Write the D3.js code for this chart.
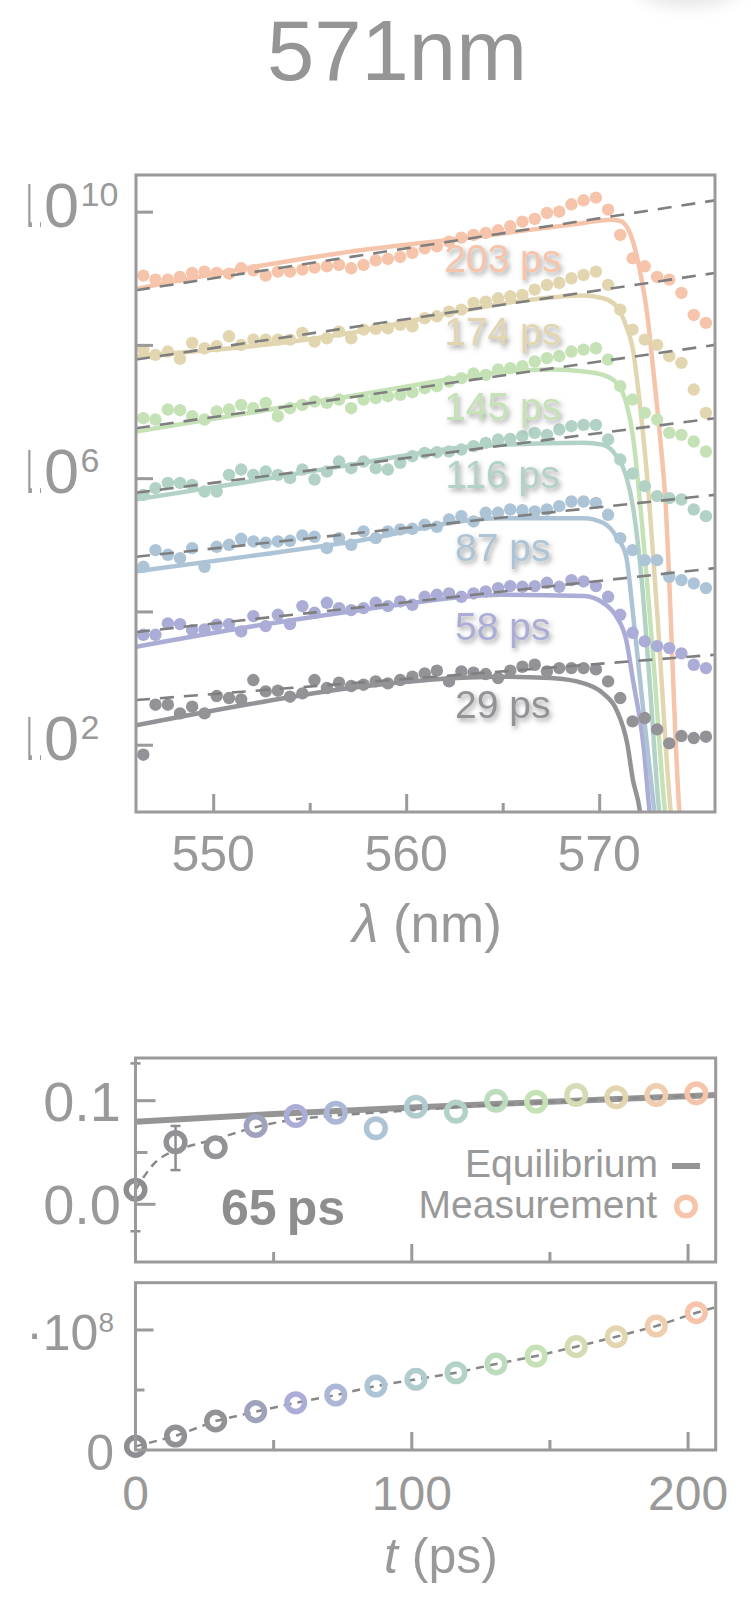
<!DOCTYPE html>
<html><head><meta charset="utf-8">
<script src="https://cdn.jsdelivr.net/npm/d3@7"></script>
<style>
html,body{margin:0;padding:0;background:#fff;}
svg{display:block;font-family:"Liberation Sans",Arial,Helvetica,sans-serif;}
</style></head><body>
<svg id="c" width="751" height="1598"></svg>
<script>
// ---------------- DATA ----------------
const titleText = "571nm";
// Top panel: spectra, wavelength grid (nm)
const wavelengths = [546.38,547.01,547.65,548.28,548.91,549.55,550.18,550.82,551.45,552.08,552.72,553.35,553.98,554.62,555.25,555.89,556.52,557.15,557.79,558.42,559.05,559.69,560.32,560.96,561.59,562.22,562.86,563.49,564.12,564.76,565.39,566.02,566.66,567.29,567.93,568.56,569.19,569.83,570.46,571.09,571.73,572.36,573.00,573.63,574.26,574.90,575.53];
const seriesNames = ["29 ps","58 ps","87 ps","116 ps","145 ps","174 ps","203 ps"];
const seriesColors = ["#939397","#abadd6","#adc4d6","#b2d2c6","#c5e2b6","#e2d6b1","#f6c4aa"];
// measured intensity, log10 units
const s29  = [1.85,2.60,2.60,2.47,2.57,2.47,2.73,2.70,2.68,2.97,2.80,2.81,2.72,2.77,2.97,2.85,2.93,2.88,2.90,2.95,2.92,2.97,3.02,3.07,3.11,2.95,3.10,3.08,3.06,3.00,3.11,3.17,3.20,3.10,3.15,3.15,3.15,3.13,2.95,2.70,2.35,2.40,2.23,2.02,2.13,2.10,2.12];
const s58  = [3.65,3.65,3.82,3.81,3.72,3.73,3.80,3.81,3.70,3.93,3.78,3.95,3.81,4.08,3.98,4.13,4.05,4.02,4.05,4.13,4.08,4.15,4.10,4.22,4.25,4.27,4.22,4.27,4.30,4.35,4.38,4.37,4.38,4.43,4.37,4.47,4.45,4.38,4.22,3.95,3.68,3.55,3.48,3.45,3.37,3.20,3.15];
const s87  = [4.67,4.92,4.85,4.80,4.95,4.67,4.97,5.00,5.09,5.05,5.03,5.05,5.06,5.14,5.12,4.95,5.10,5.00,5.20,5.10,5.20,5.23,5.24,5.30,5.27,5.38,5.43,5.35,5.48,5.48,5.53,5.52,5.50,5.53,5.58,5.65,5.65,5.63,5.45,5.10,4.92,4.77,4.77,4.52,4.47,4.42,4.35];
const s116 = [5.75,5.85,5.93,5.93,5.90,5.80,5.80,6.05,6.13,6.05,6.10,6.05,6.00,6.13,5.98,6.10,6.25,6.15,6.25,6.15,6.13,6.23,6.33,6.38,6.39,6.40,6.43,6.48,6.53,6.58,6.59,6.63,6.68,6.65,6.73,6.78,6.80,6.80,6.58,6.28,6.07,5.88,5.73,5.70,5.68,5.53,5.43];
const s145 = [6.90,6.88,7.03,7.02,6.93,6.88,7.00,7.03,7.10,7.05,7.13,6.93,7.05,7.10,7.15,7.13,7.18,7.05,7.18,7.20,7.23,7.25,7.29,7.35,7.38,7.45,7.50,7.57,7.55,7.63,7.65,7.68,7.75,7.80,7.83,7.90,7.93,7.95,7.78,7.38,7.18,6.98,6.88,6.68,6.65,6.55,6.40];
const s174 = [7.93,7.85,7.90,7.79,8.03,7.95,7.98,8.13,8.00,8.08,8.08,8.08,8.08,8.18,8.05,8.10,8.20,8.10,8.23,8.24,8.25,8.30,8.28,8.40,8.43,8.50,8.53,8.63,8.65,8.70,8.73,8.75,8.83,8.90,8.93,9.00,9.05,9.10,8.90,8.53,8.23,8.08,8.00,7.83,7.73,7.33,6.98];
const s203 = [9.04,8.98,8.98,9.02,9.08,9.10,9.08,9.07,9.15,9.12,9.04,9.10,9.10,9.13,9.16,9.18,9.20,9.15,9.20,9.27,9.29,9.32,9.38,9.45,9.48,9.55,9.61,9.65,9.68,9.72,9.78,9.85,9.89,9.98,10.00,10.11,10.17,10.21,10.03,9.65,9.30,9.18,9.02,8.98,8.78,8.45,8.33];
const measured = [s29,s58,s87,s116,s145,s174,s203];
// fitted curves [wavelength, log10 intensity]
const fit29  = [[546,2.29],[551.9,2.61],[557.1,2.85],[564.9,3.02],[567.5,3.00],[569.2,2.92],[570.2,2.77],[570.9,2.52],[571.45,2.02],[571.75,1.47],[572.1,1.02],[572.3,0.5]];
const fit58  = [[546,3.47],[551.9,3.77],[557.1,4.00],[559.6,4.10],[564.9,4.25],[569.2,4.23],[570.2,4.13],[570.9,3.92],[571.4,3.57],[571.75,2.97],[572.3,1.97],[572.6,1.02],[572.8,0.5]];
const fit87  = [[546,4.60],[551.9,4.83],[557.1,5.04],[564.9,5.40],[569.2,5.40],[570.2,5.33],[570.9,5.12],[571.4,4.82],[571.75,3.97],[572.3,2.47],[572.85,1.02],[573.05,0.5]];
const fit116 = [[546,5.68],[551.9,5.95],[557.1,6.20],[563.6,6.48],[569.2,6.53],[570.2,6.50],[570.9,6.33],[571.4,6.03],[571.8,5.48],[572.2,4.47],[572.6,3.0],[573.1,1.02],[573.3,0.5]];
const fit145 = [[546,6.70],[551.9,6.98],[557.1,7.23],[567.5,7.63],[569.2,7.60],[570.2,7.55],[570.9,7.43],[571.4,7.13],[571.75,6.63],[572.1,5.68],[572.8,3.3],[573.4,1.02],[573.6,0.5]];
const fit174 = [[546,7.83],[557.1,8.18],[562.3,8.48],[565.7,8.65],[569.2,8.74],[570.2,8.70],[570.9,8.58],[571.4,8.28],[571.75,7.93],[572.1,7.13],[572.45,6.13],[573.0,4.0],[573.7,1.02],[573.9,0.5]];
const fit203 = [[546,8.84],[551.9,9.16],[557.1,9.40],[562.3,9.58],[565.7,9.70],[569.2,9.83],[570.6,9.88],[571.1,9.86],[571.75,9.55],[572.1,9.13],[572.5,8.43],[572.8,7.63],[573.15,6.63],[573.4,5.8],[574.15,1.02],[574.3,0.5]];
const fits = [fit29,fit58,fit87,fit116,fit145,fit174,fit203];
// Boltzmann (dashed) lines, log10 value at the two ends of the wavelength range
const dashedLambda = [546, 576];
const dashedStart = [2.67,3.69,4.82,5.78,6.75,7.78,8.82];
const dashedEnd   = [3.35,4.65,5.75,6.90,8.00,9.08,10.17];
const labelLog = [2.40,3.57,4.75,5.86,6.87,8.00,9.10];
const xTicksTop = [550,560,570];
const xMinorTop = [555,565];
const yTickExpTop = [2,4,6,8,10];
const yLabelExpTop = [10,6,2];

// Bottom panels
const times = [0,14.5,29,43.5,58,72.5,87,101.5,116,130.5,145,159.5,174,188.5,203];
const ringColors = ["#8e8e92","#919195","#939397","#a0a2bb","#abadd6","#acb6d6","#adc4d6","#b0ccce","#b2d2c6","#bcdcbd","#c5e2b6","#d4dcb3","#e2d6b1","#efcdae","#f6c4aa"];
const thermFraction = [0.014,0.060,0.055,0.0756,0.0852,0.0884,0.0734,0.0942,0.0894,0.1000,0.0990,0.1055,0.1033,0.1055,0.1071];
const errIdx = [0,1];
const errLow = [-0.026,0.033];
const errHigh = [0.136,0.0756];
const eqT = [0,50,100,150,210];
const eqV = [0.0797,0.0872,0.0935,0.0990,0.1055];
const thermFitT = [0,7,14.5,22,29,43.5,58,72.5,87,101.5,130.5,160,210];
const thermFitV = [0.014,0.040,0.052,0.058,0.063,0.0745,0.082,0.0857,0.0885,0.091,0.096,0.100,0.1055];
const population = [0.03e8,0.117e8,0.242e8,0.32e8,0.394e8,0.458e8,0.533e8,0.589e8,0.644e8,0.717e8,0.783e8,0.861e8,0.944e8,1.033e8,1.144e8];
const popExtT = 210, popExtV = 1.19e8;
const tMajor = [100,200], tMinor = [50,150];
const tLabels = [0,100,200];

// ---------------- DRAW ----------------
const W = 751, H = 1598;
const grey = "#9a9a9a", txt = "#999999";
const svg = d3.select("#c");
const defs = svg.append("defs");
defs.append("clipPath").attr("id","clipTop").append("rect").attr("x",136).attr("y",175).attr("width",579).attr("height",637);
const cl = defs.append("clipPath").attr("id","clipLeft");
cl.append("rect").attr("x",28.3).attr("y",0).attr("width",3.6).attr("height",H);
cl.append("rect").attr("x",40).attr("y",0).attr("width",W).attr("height",H);
const sh = defs.append("filter").attr("id","shadow").attr("x","-20%").attr("y","-30%").attr("width","140%").attr("height","170%");
sh.append("feDropShadow").attr("dx",2).attr("dy",3).attr("stdDeviation",2.4).attr("flood-color","#444").attr("flood-opacity",0.5);
const bl = defs.append("filter").attr("id","blur").attr("x","-100%").attr("y","-100%").attr("width","300%").attr("height","300%");
bl.append("feGaussianBlur").attr("stdDeviation",8);

// faint shadow blob top right
svg.append("ellipse").attr("cx",688).attr("cy",-12).attr("rx",50).attr("ry",18).attr("fill","#e4e4e4").attr("filter","url(#blur)");

// title
svg.append("text").attr("x",397).attr("y",80).attr("text-anchor","middle")
  .attr("font-size",85).attr("fill","#959595").text(titleText);

// ---- Top panel ----
const xT = d3.scaleLinear().domain([546,576]).range([136,715]);
const yT = d3.scaleLog().domain([Math.pow(10,0.99), Math.pow(10,10.55)]).range([812,175]);
const topG = svg.append("g");
const plot = topG.append("g").attr("clip-path","url(#clipTop)");
const fitLine = d3.line().x(d=>xT(d[0])).y(d=>yT(Math.pow(10,d[1]))).curve(d3.curveMonotoneX);

fits.forEach((f,j)=>{
  plot.append("path").attr("d",fitLine(f)).attr("fill","none")
    .attr("stroke",seriesColors[j]).attr("stroke-width",4.5).attr("stroke-linejoin","round");
});
measured.forEach((arr,j)=>{
  plot.append("g").selectAll("circle").data(arr).join("circle")
    .attr("cx",(d,i)=>xT(wavelengths[i])).attr("cy",d=>yT(Math.pow(10,d)))
    .attr("r",6.2).attr("fill",seriesColors[j]);
});
dashedStart.forEach((s,j)=>{
  plot.append("path").attr("d",fitLine([[dashedLambda[0],s],[dashedLambda[1],dashedEnd[j]]]))
    .attr("fill","none").attr("stroke","#7f7f7f").attr("stroke-width",2.6).attr("stroke-dasharray","14,10");
});
seriesNames.forEach((n,j)=>{
  topG.append("text").attr("x",xT(565.0)).attr("y",yT(Math.pow(10,labelLog[j])))
    .attr("text-anchor","middle").attr("font-size",39).attr("fill",seriesColors[j])
    .attr("filter","url(#shadow)").text(n);
});
// frame
topG.append("rect").attr("x",136).attr("y",175).attr("width",579).attr("height",637)
  .attr("fill","none").attr("stroke",grey).attr("stroke-width",3);
// y ticks
const yAx = topG.append("g").attr("transform","translate(136,0)")
  .call(d3.axisLeft(yT).tickValues(yTickExpTop.map(e=>Math.pow(10,e))).tickSize(-17).tickFormat(""));
yAx.select(".domain").remove();
yAx.selectAll("line").attr("stroke",grey).attr("stroke-width",3);
// x ticks
const xAx = topG.append("g").attr("transform","translate(0,812)")
  .call(d3.axisBottom(xT).tickValues(xTicksTop).tickSize(-18).tickFormat(""));
xAx.select(".domain").remove();
xAx.selectAll("line").attr("stroke",grey).attr("stroke-width",3);
const xAx2 = topG.append("g").attr("transform","translate(0,812)")
  .call(d3.axisBottom(xT).tickValues(xMinorTop).tickSize(-9).tickFormat(""));
xAx2.select(".domain").remove();
xAx2.selectAll("line").attr("stroke",grey).attr("stroke-width",3);
xTicksTop.forEach(v=>{
  topG.append("text").attr("x",xT(v)).attr("y",871).attr("text-anchor","middle")
    .attr("font-size",50).attr("fill",txt).text(v);
});
const xTitle = topG.append("text").attr("x",427).attr("y",942).attr("text-anchor","middle")
  .attr("font-size",53).attr("fill",txt);
xTitle.append("tspan").attr("font-style","italic").text("λ");
xTitle.append("tspan").text(" (nm)");
// y labels (left edge cropped like the source)
const yLab = svg.append("g").attr("clip-path","url(#clipLeft)");
yLabelExpTop.forEach(e=>{
  const t = yLab.append("text").attr("x",9).attr("y",yT(Math.pow(10,e))+15)
    .attr("font-size",63).attr("fill",txt);
  t.append("tspan").text("10");
  t.append("tspan").attr("font-size",34).attr("dx",1.5).attr("dy",-21).text(e);
});
const yLab2 = svg.append("g");

// ---- Panel A: thermalization ----
const xA = d3.scaleLinear().domain([0,210]).range([135.5,715.7]);
const yA = d3.scaleLinear().domain([-0.0557,0.1412]).range([1262,1058]);
const pa = svg.append("g");
const lineA = d3.line().x(d=>xA(d[0])).y(d=>yA(d[1])).curve(d3.curveMonotoneX);
pa.append("path").attr("d",lineA(eqT.map((t,i)=>[t,eqV[i]]))).attr("fill","none")
  .attr("stroke","#959595").attr("stroke-width",6);
pa.append("path").attr("d",lineA(thermFitT.map((t,i)=>[t,thermFitV[i]]))).attr("fill","none")
  .attr("stroke","#888").attr("stroke-width",2.5).attr("stroke-dasharray","8,6");
errIdx.forEach((k,i)=>{
  const x = xA(times[k]);
  pa.append("line").attr("x1",x).attr("x2",x).attr("y1",yA(errLow[i])).attr("y2",yA(errHigh[i]))
    .attr("stroke","#8e8e92").attr("stroke-width",2.5);
  [errLow[i],errHigh[i]].forEach(v=>{
    pa.append("line").attr("x1",x-5).attr("x2",x+5).attr("y1",yA(v)).attr("y2",yA(v))
      .attr("stroke","#8e8e92").attr("stroke-width",2.5);
  });
});
pa.selectAll("circle.r").data(thermFraction).join("circle").attr("class","r")
  .attr("cx",(d,i)=>xA(times[i])).attr("cy",d=>yA(d)).attr("r",9.3)
  .attr("fill","none").attr("stroke",(d,i)=>ringColors[i]).attr("stroke-width",5.5);
pa.append("rect").attr("x",135.5).attr("y",1058).attr("width",580.2).attr("height",204)
  .attr("fill","none").attr("stroke",grey).attr("stroke-width",3);
[[0,20],[0.1,20],[0.05,12]].forEach(([v,len])=>{
  pa.append("line").attr("x1",135.5).attr("x2",135.5+len).attr("y1",yA(v)).attr("y2",yA(v))
    .attr("stroke",grey).attr("stroke-width",3);
});
tMajor.forEach(t=>pa.append("line").attr("x1",xA(t)).attr("x2",xA(t)).attr("y1",1262).attr("y2",1244).attr("stroke",grey).attr("stroke-width",3));
tMinor.forEach(t=>pa.append("line").attr("x1",xA(t)).attr("x2",xA(t)).attr("y1",1262).attr("y2",1252).attr("stroke",grey).attr("stroke-width",3));
[[0.1,"0.1"],[0,"0.0"]].forEach(([v,s])=>{
  yLab2.append("text").attr("x",121).attr("y",yA(v)+20).attr("text-anchor","end")
    .attr("font-size",56).attr("fill",txt).text(s);
});
pa.append("text").attr("x",221).attr("y",1225).attr("font-size",50).attr("font-weight","bold")
  .attr("fill","#8e8e8e").text("65\u2009ps");
// legend
pa.append("text").attr("x",658).attr("y",1177).attr("text-anchor","end").attr("font-size",39)
  .attr("fill",txt).text("Equilibrium");
pa.append("line").attr("x1",672).attr("x2",700).attr("y1",1166).attr("y2",1166)
  .attr("stroke","#959595").attr("stroke-width",6);
pa.append("text").attr("x",657).attr("y",1218).attr("text-anchor","end").attr("font-size",39)
  .attr("fill",txt).text("Measurement");
pa.append("circle").attr("cx",686).attr("cy",1206.5).attr("r",9.3).attr("fill","none")
  .attr("stroke",ringColors[14]).attr("stroke-width",5.5);

// ---- Panel B: population ----
const yB = d3.scaleLinear().domain([0,1.394e8]).range([1450,1282.7]);
const pb = svg.append("g");
const lineB = d3.line().x(d=>xA(d[0])).y(d=>yB(d[1]));
const popLine = times.map((t,i)=>[t,population[i]]).concat([[popExtT,popExtV]]);
pb.append("path").attr("d",lineB(popLine)).attr("fill","none")
  .attr("stroke","#888").attr("stroke-width",2.5).attr("stroke-dasharray","8,6");
pb.selectAll("circle").data(population).join("circle")
  .attr("cx",(d,i)=>xA(times[i])).attr("cy",d=>yB(d)).attr("r",8.8)
  .attr("fill","none").attr("stroke",(d,i)=>ringColors[i]).attr("stroke-width",5.5);
pb.append("rect").attr("x",135.5).attr("y",1282.7).attr("width",580.2).attr("height",167.3)
  .attr("fill","none").attr("stroke",grey).attr("stroke-width",3);
[[1e8,18],[0.5e8,9]].forEach(([v,len])=>{
  pb.append("line").attr("x1",135.5).attr("x2",135.5+len).attr("y1",yB(v)).attr("y2",yB(v))
    .attr("stroke",grey).attr("stroke-width",3);
});
tMajor.forEach(t=>pb.append("line").attr("x1",xA(t)).attr("x2",xA(t)).attr("y1",1450).attr("y2",1432).attr("stroke",grey).attr("stroke-width",3));
tMinor.forEach(t=>pb.append("line").attr("x1",xA(t)).attr("x2",xA(t)).attr("y1",1450).attr("y2",1440).attr("stroke",grey).attr("stroke-width",3));
yLab2.append("text").attr("x",114).attr("y",yB(0)+20).attr("text-anchor","end")
  .attr("font-size",50).attr("fill",txt).text("0");
const t8 = yLab2.append("text").attr("x",114).attr("y",yB(1e8)+20).attr("text-anchor","end")
  .attr("font-size",50).attr("fill",txt);
t8.append("tspan").text("·10");
t8.append("tspan").attr("font-size",28).attr("dy",-18).text("8");
tLabels.forEach(t=>{
  pb.append("text").attr("x",xA(t)).attr("y",1510).attr("text-anchor","middle")
    .attr("font-size",48).attr("fill",txt).text(t);
});
const tTitle = pb.append("text").attr("x",441).attr("y",1573).attr("text-anchor","middle")
  .attr("font-size",50).attr("fill",txt);
tTitle.append("tspan").attr("font-style","italic").text("t");
tTitle.append("tspan").text(" (ps)");
</script></body></html>
